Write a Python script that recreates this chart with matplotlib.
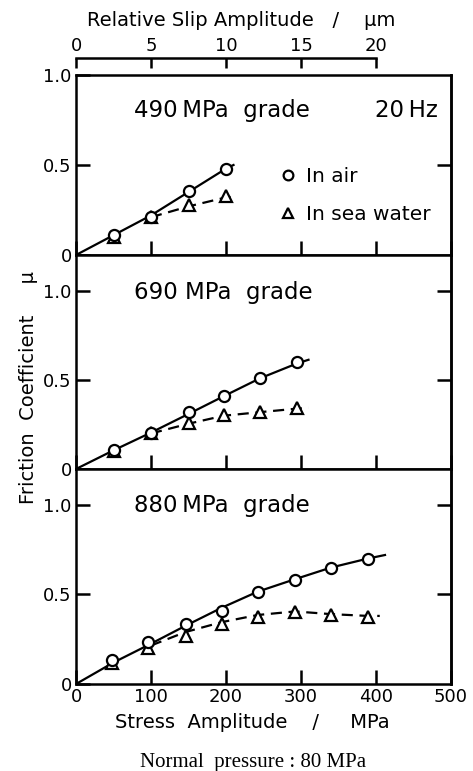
import numpy as np
import matplotlib
matplotlib.use("Agg")
import matplotlib.pyplot as plt
from matplotlib.lines import Line2D

# Data (stress amplitude in MPa, friction coefficient mu)
stress_490 = [50, 100, 150, 200]
air_490 = [0.11, 0.21, 0.355, 0.48]
sea_490 = [0.10, 0.21, 0.28, 0.33]

stress_690 = [50, 100, 150, 197, 245, 295]
air_690 = [0.107, 0.20, 0.32, 0.41, 0.51, 0.60]
sea_690 = [0.10, 0.20, 0.26, 0.305, 0.32, 0.345]

stress_880 = [48, 96, 146, 194, 242, 292, 340, 389]
air_880 = [0.134, 0.235, 0.335, 0.41, 0.515, 0.58, 0.65, 0.70]
sea_880 = [0.117, 0.20, 0.27, 0.335, 0.375, 0.40, 0.385, 0.375]

# hand-drawn fit lines (start / end beyond the data)
air_line_490_x = [0, 50, 100, 150, 200, 210]
air_line_490_y = [0, 0.11, 0.22, 0.35, 0.48, 0.50]
sea_line_490_x = [100, 150, 200, 215]
sea_line_490_y = [0.21, 0.27, 0.32, 0.325]

air_line_690_x = [0, 50, 100, 150, 197, 245, 295, 310]
air_line_690_y = [0, 0.105, 0.205, 0.31, 0.41, 0.51, 0.595, 0.615]
sea_line_690_x = [100, 150, 197, 245, 295, 310]
sea_line_690_y = [0.20, 0.255, 0.30, 0.32, 0.34, 0.345]

air_line_880_x = [0, 50, 100, 146, 194, 242, 292, 340, 389, 412]
air_line_880_y = [0, 0.12, 0.225, 0.325, 0.425, 0.515, 0.585, 0.65, 0.70, 0.72]
sea_line_880_x = [100, 146, 194, 242, 292, 340, 389, 405]
sea_line_880_y = [0.215, 0.29, 0.345, 0.385, 0.405, 0.39, 0.38, 0.38]

slip_ticks = [0, 5, 10, 15, 20]
stress_ticks = [0, 100, 200, 300, 400, 500]

W, H = 473, 771
plt.rcParams["font.family"] = ["DejaVu Sans"]
LW = 1.8


def px_axes(left, top, right, bottom):
    return [left / W, 1 - bottom / H, (right - left) / W, (bottom - top) / H]


def style_panel(ax, ymax, yticks, rticks, show_xlabels):
    ax.set_xlim(0, 500)
    ax.set_ylim(0, ymax)
    for s in ax.spines.values():
        s.set_linewidth(LW)
    ax.set_xticks(stress_ticks)
    ax.set_yticks(yticks)
    ax.set_yticklabels(["0" if v == 0 else f"{v:.1f}" for v in yticks])
    ax.tick_params(axis="both", direction="in", length=10, width=LW,
                   labelsize=13, pad=3)
    ax.tick_params(axis="x", labelbottom=show_xlabels)
    sec = ax.secondary_yaxis("right")
    sec.set_yticks(rticks)
    sec.set_yticklabels([])
    sec.tick_params(direction="in", length=10, width=LW)
    sec.spines["right"].set_linewidth(LW)


def draw(ax, sx, air, sea, alx, aly, slx, sly):
    ax.plot(alx, aly, "-", color="black", lw=1.6, zorder=2)
    ax.plot(slx, sly, "--", color="black", lw=1.6, dashes=(5, 3), zorder=2)
    ax.plot(sx, sea, "^", ms=8, mfc="white", mec="black", mew=1.6, ls="none", zorder=3)
    ax.plot(sx, air, "o", ms=8, mfc="white", mec="black", mew=1.6, ls="none", zorder=4)


fig = plt.figure(figsize=(W / 100, H / 100), dpi=100)

ax1 = fig.add_axes(px_axes(76, 75, 451, 255))
ax2 = fig.add_axes(px_axes(76, 255, 451, 469))
ax3 = fig.add_axes(px_axes(76, 469, 451, 684))

style_panel(ax1, 1.0, [0, 0.5, 1.0], [0.5], False)
style_panel(ax2, 1.205, [0, 0.5, 1.0], [0.5, 1.0], False)
style_panel(ax3, 1.2, [0, 0.5, 1.0], [0.5, 1.0], True)

draw(ax1, stress_490, air_490, sea_490, air_line_490_x, air_line_490_y,
     sea_line_490_x, sea_line_490_y)
draw(ax2, stress_690, air_690, sea_690, air_line_690_x, air_line_690_y,
     sea_line_690_x, sea_line_690_y)
draw(ax3, stress_880, air_880, sea_880, air_line_880_x, air_line_880_y,
     sea_line_880_x, sea_line_880_y)

FS = 16.5
ax1.text(0.155, 0.80, "490\u2009MPa  grade", transform=ax1.transAxes, fontsize=FS,
         ha="left", va="center")
ax1.text(0.965, 0.80, "20\u2009Hz", transform=ax1.transAxes, fontsize=FS,
         ha="right", va="center")
ax2.text(0.155, 0.825, "690 MPa  grade", transform=ax2.transAxes, fontsize=FS,
         ha="left", va="center")
ax3.text(0.155, 0.83, "880\u2009MPa  grade", transform=ax3.transAxes, fontsize=FS,
         ha="left", va="center")

handles = [Line2D([], [], marker="o", ls="none", ms=7, mfc="white", mec="black", mew=1.6),
           Line2D([], [], marker="^", ls="none", ms=7, mfc="white", mec="black", mew=1.6)]
ax1.legend(handles, ["In air", "In sea water"], loc="upper left",
           bbox_to_anchor=(0.545, 0.49), frameon=False, fontsize=14.5,
           handlelength=0.8, handletextpad=0.45, labelspacing=0.95,
           borderpad=0, borderaxespad=0)

# top axis: relative slip amplitude (20 um <-> 400 MPa)
axt = fig.add_axes(px_axes(76, 58, 451, 59))
axt.set_xlim(0, 25)
axt.set_ylim(0, 1)
for k in ["left", "right", "bottom"]:
    axt.spines[k].set_visible(False)
axt.spines["top"].set_linewidth(LW)
axt.spines["top"].set_bounds(0, 20)
axt.patch.set_visible(False)
axt.set_yticks([])
axt.xaxis.tick_top()
axt.set_xticks(slip_ticks)
axt.tick_params(axis="x", direction="in", length=7, width=LW, labelsize=13, pad=2)

fig.text(241 / W, 1 - 20 / H, "Relative Slip Amplitude   /    \u00b5m",
         fontsize=14, ha="center", va="center")
fig.text(252 / W, 1 - 722 / H, "Stress  Amplitude    /     MPa",
         fontsize=14, ha="center", va="center")

fig.text(29 / W, 1 - 387 / H, "Friction  Coefficient     \u03bc", rotation=90,
         fontsize=14, ha="center", va="center")
fig.text(253 / W, 1 - 762 / H, "Normal  pressure : 80 MPa", family="Liberation Serif",
         fontsize=15, ha="center", va="center")

fig.savefig("out.png", dpi=100)
